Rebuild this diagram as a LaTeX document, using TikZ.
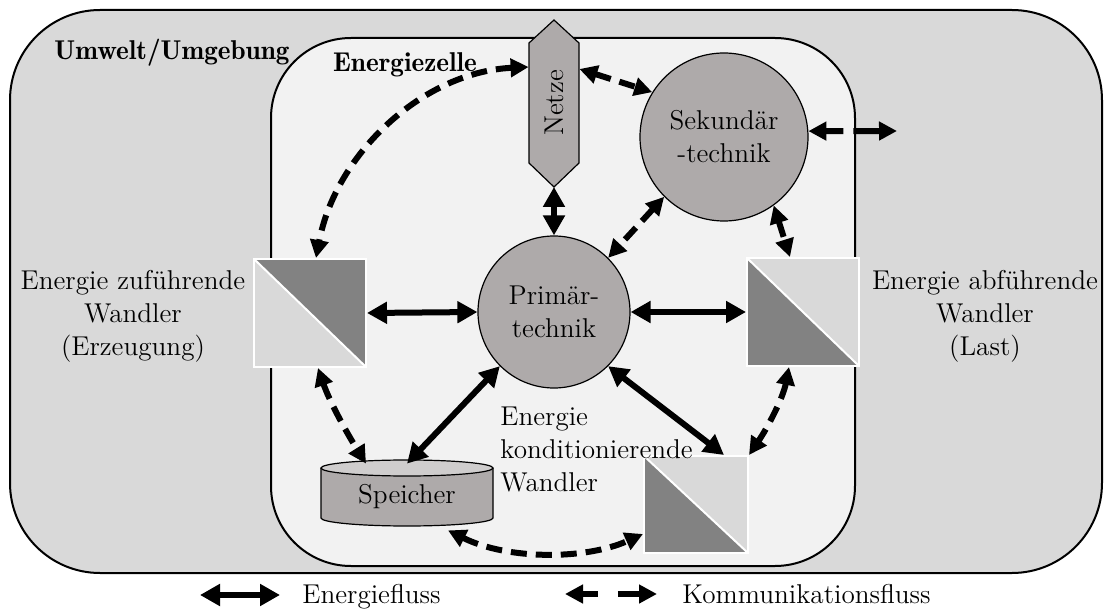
\documentclass[tikz,border=0pt]{standalone}
\usetikzlibrary{arrows.meta,calc}
\definecolor{outerfill}{HTML}{D9D9D9}
\definecolor{innerfill}{HTML}{F2F2F2}
\definecolor{techfill}{HTML}{AEAAAA}
\definecolor{convdark}{HTML}{828282}
\definecolor{convlight}{HTML}{D9D9D9}
\definecolor{endfill}{HTML}{CFCDCD}
\begin{document}
\begin{tikzpicture}[x=0.5pt,y=-0.5pt,
  font=\fontsize{13.6}{16.5}\selectfont,
  boxlabel/.style={font=\fontsize{13.6}{16.5}\fontseries{b}\selectfont, inner sep=0pt, anchor=base},
  energy/.style={line width=3pt, {Triangle[length=10pt,width=10.5pt]}-{Triangle[length=10pt,width=10.5pt]}},
  comm/.style={line width=3pt, dash pattern=on 8pt off 4.5pt, {Triangle[length=9pt,width=9pt]}-{Triangle[length=9pt,width=9pt]}},
  tech/.style={circle, draw=black, line width=0.6pt, fill=techfill, inner sep=0pt, align=center},
  conv/.style={rectangle, fill=convlight, draw=white, line width=1pt, inner sep=0pt},
  convA/.style={conv, path picture={
     \fill[convdark] (path picture bounding box.north west) -- (path picture bounding box.north east) -- (path picture bounding box.south east) -- cycle;
     \draw[white, line width=1pt] (path picture bounding box.north west) -- (path picture bounding box.south east);}},
  convB/.style={conv, path picture={
     \fill[convdark] (path picture bounding box.north west) -- (path picture bounding box.south west) -- (path picture bounding box.south east) -- cycle;
     \draw[white, line width=1pt] (path picture bounding box.north west) -- (path picture bounding box.south east);}},
  techshape/.style={draw=black, line width=0.6pt, fill=techfill}
]
\useasboundingbox (0,0) rectangle (1105,610);

% boxes
\draw[line width=1pt, fill=outerfill, rounded corners=45pt] (10,10) rectangle (1102,573);
\draw[line width=1pt, fill=innerfill, rounded corners=40pt] (271,38) rectangle (855,566);
\node[boxlabel] (umwelt) at (172,60) {Umwelt/Umgebung};
\node[boxlabel] (zelle) at (405,72) {Energiezelle};

% Netze
\draw[techshape] (554,20) -- (579,43) -- (579,163) -- (554,187) -- (529,163) -- (529,43) -- cycle;
\node[inner sep=0pt, minimum width=25pt, minimum height=60pt] (net) at (554,103) {\rotatebox{90}{Netze}};
\coordinate (netbot) at (554,187);

% technik
\node[tech, minimum size=84pt] (sek) at (724,137) {Sekund\"ar\\-technik};
\node[tech, minimum size=76pt] (prim) at (554,312) {Prim\"ar-\\technik};

% converters
\node[convA, minimum width=56pt, minimum height=54pt] (conv1) at (310,313) {};
\node[convB, minimum width=56pt, minimum height=54pt] (conv2) at (803,312) {};
\node[convB, minimum width=52pt, minimum height=48.5pt] (conv3) at (696,504.5) {};

% Speicher
\draw[techshape] (321,468) -- (321,518) arc[start angle=180, end angle=360, x radius=43pt, y radius=4pt] -- (493,468);
\draw[draw=black, line width=0.6pt, fill=endfill] (407,468) ellipse [x radius=43pt, y radius=4pt];
\node[inner sep=0pt, minimum width=86pt, minimum height=33pt] (spe) at (407,497) {Speicher};

% labels
\node[align=center, inner sep=0pt] (lblin) at (133,316) {Energie zuf\"uhrende\\Wandler\\(Erzeugung)};
\node[align=center, inner sep=0pt] (lblout) at (985,316) {Energie abf\"uhrende\\Wandler\\(Last)};
\node[align=left, inner sep=0pt, anchor=west] (lblkond) at (500,450) {Energie\\konditionierende\\Wandler};

% energy flows
\draw[energy] (conv1.east) -- (prim.west);
\draw[energy] (prim.east) -- (conv2.west);
\draw[energy] (netbot) -- (prim.north);
\draw[energy] (prim.225) -- (spe.north);
\draw[energy] (prim.315) -- ([xshift=14pt]conv3.north);

% communication flows
\coordinate (ext) at (897,131);
\draw[comm] ([yshift=18pt]net.west) .. controls (423.5,72) and (336,153) .. ([xshift=3pt]conv1.north);
\draw[comm] ([yshift=17pt]net.east) -- (sek.148);
\draw[comm, dash pattern=on 9pt off 5pt on 20pt] (sek.4) -- (ext);
\draw[comm] (sek.225) -- (prim.45);
\draw[comm] (sek.306) -- ([xshift=-6.5pt]conv2.north);
\draw[comm] ([xshift=4pt]conv1.south) .. controls (329,400) and (345,430) .. ([xshift=-20.5pt]spe.north);
\draw[comm] ([xshift=20.5pt]spe.south) .. controls (508,560) and (585,560) .. ([yshift=10pt]conv3.south west);
\draw[comm] ([xshift=-7pt]conv2.south) .. controls (783,398) and (768,427) .. (conv3.north east);

% legend
\coordinate (la) at (200,595);
\coordinate (lb) at (280,595);
\coordinate (lc) at (565,594);
\coordinate (ld) at (657,594);
\draw[energy] (la) -- (lb);
\draw[comm, dash pattern=on 8pt off 10pt on 20pt] (lc) -- (ld);
\node[anchor=base west, inner sep=0pt] (lgE) at (302,603) {Energiefluss};
\node[anchor=base west, inner sep=0pt] (lgK) at (682,603) {Kommunikationsfluss};
\end{tikzpicture}
\end{document}
